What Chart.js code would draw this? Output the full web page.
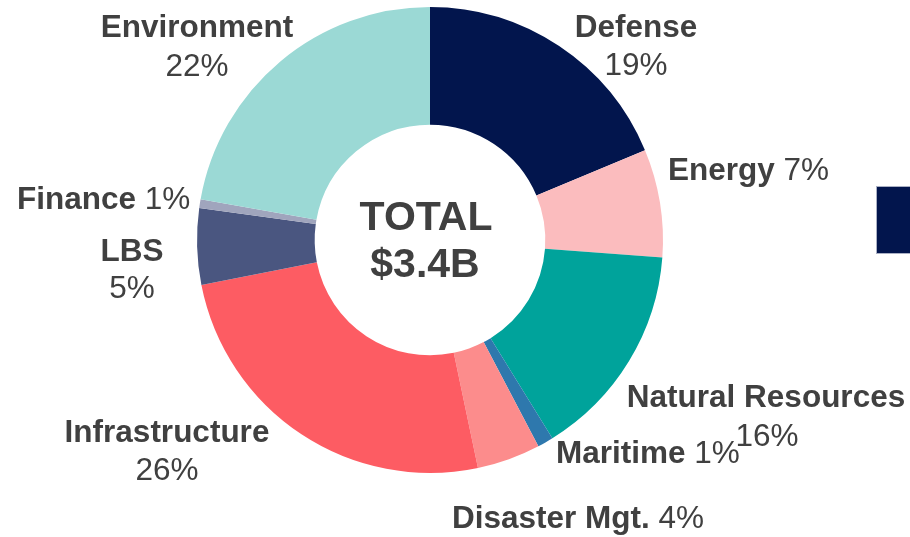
<!DOCTYPE html>
<html>
<head>
<meta charset="utf-8">
<script src="https://cdn.jsdelivr.net/npm/chart.js@4.4.1/dist/chart.umd.min.js"></script>
<style>
  html, body { margin: 0; padding: 0; background: #ffffff; }
  #portfolio { display: block; }
</style>
</head>
<body>
<canvas id="portfolio" width="910" height="537"></canvas>
<script>
// Portfolio split by sector (clockwise from 12 o'clock)
const sectors = ["Defense", "Energy", "Natural Resources", "Maritime", "Disaster Mgt.",
                 "Infrastructure", "LBS", "Finance", "Environment"];
const shares = [18.7, 7.5, 15.0, 1.1, 4.4, 25.2, 5.3, 0.6, 22.2];
const shareLabels = ["19%", "7%", "16%", "1%", "4%", "26%", "5%", "1%", "22%"];
const totalLines = ["TOTAL", "$3.4B"];

const sectorColors = ["#02154d", "#fbbcbe", "#00a39b", "#2e78ad", "#fc8c8c",
                      "#fd5c63", "#4a5680", "#a0a5bd", "#9bd9d5"];

// where each callout sits (hand placed in the original slide)
// "stack" = bold name over percentage, centred; "inline" = name + pct on one line, left anchored
const calloutLayout = [
  { mode: "stack",  x: 636, y1: 37,  y2: 75 },
  { mode: "inline", x: 668, y: 180 },
  { mode: "stack",  x: 766, y1: 407, y2: 446, pctX: 767 },
  { mode: "inline", x: 556, y: 463 },
  { mode: "inline", x: 452, y: 528 },
  { mode: "stack",  x: 167, y1: 442, y2: 480 },
  { mode: "stack",  x: 132, y1: 261, y2: 298 },
  { mode: "inline", x: 17,  y: 209 },
  { mode: "stack",  x: 197, y1: 37,  y2: 76 }
];

const textColor = "#404040";
const fontFamily = "'Liberation Sans', Arial, sans-serif";

const calloutPlugin = {
  id: "callouts",
  afterDraw(chart) {
    const { ctx } = chart;
    ctx.save();
    ctx.fillStyle = textColor;
    ctx.textBaseline = "alphabetic";

    const bold = "bold 31.5px " + fontFamily;
    const regular = "31.5px " + fontFamily;

    sectors.forEach((name, i) => {
      const c = calloutLayout[i];
      if (c.mode === "stack") {
        ctx.textAlign = "center";
        ctx.font = bold;
        ctx.fillText(name, c.x, c.y1);
        ctx.font = regular;
        ctx.fillText(shareLabels[i], c.pctX || c.x, c.y2);
      } else {
        ctx.textAlign = "left";
        ctx.font = bold;
        ctx.fillText(name, c.x, c.y);
        const w = ctx.measureText(name + " ").width;
        ctx.font = regular;
        ctx.fillText(shareLabels[i], c.x + w, c.y);
      }
    });

    // centre total
    const arc = chart.getDatasetMeta(0).data[0];
    ctx.textAlign = "center";
    ctx.font = "bold 41px " + fontFamily;
    ctx.fillText(totalLines[0], arc.x - 4, 230);
    ctx.fillText(totalLines[1], arc.x - 5, 277);

    // cropped legend swatch at the right edge of the slide
    ctx.fillStyle = sectorColors[0];
    ctx.fillRect(876, 186, 40, 68);
    ctx.strokeStyle = "#aab0c4";
    ctx.lineWidth = 1;
    ctx.strokeRect(876.5, 186.5, 40, 67);
    ctx.restore();
  }
};

new Chart(document.getElementById("portfolio").getContext("2d"), {
  type: "doughnut",
  data: {
    labels: sectors,
    datasets: [{
      data: shares,
      backgroundColor: sectorColors,
      borderWidth: 0,
      hoverOffset: 0
    }]
  },
  options: {
    responsive: false,
    animation: false,
    cutout: "49.5%",
    rotation: 0,
    layout: { padding: { left: 197, right: 247, top: 7, bottom: 64 } },
    plugins: {
      legend: { display: false },
      tooltip: { enabled: false }
    }
  },
  plugins: [calloutPlugin]
});
</script>
</body>
</html>
